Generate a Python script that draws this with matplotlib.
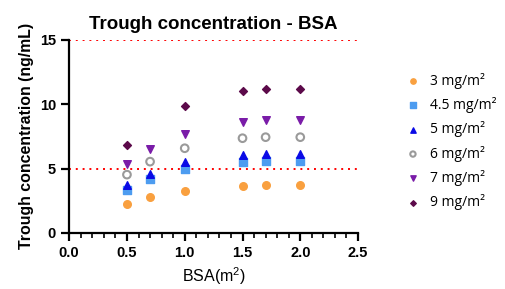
import matplotlib
matplotlib.use("Agg")
import matplotlib.pyplot as plt
from matplotlib.ticker import MultipleLocator

bsa = [0.5, 0.7, 1.0, 1.5, 1.7, 2.0]
dose_labels = ["3 mg/m²", "4.5 mg/m²", "5 mg/m²", "6 mg/m²", "7 mg/m²", "9 mg/m²"]
c_3 = [2.25, 2.77, 3.29, 3.68, 3.73, 3.73]
c_45 = [3.37, 4.17, 4.95, 5.52, 5.60, 5.60]
c_5 = [3.73, 4.60, 5.49, 6.06, 6.17, 6.17]
c_6 = [4.53, 5.54, 6.58, 7.36, 7.44, 7.44]
c_7 = [5.34, 6.53, 7.72, 8.63, 8.76, 8.76]
bsa_9 = [0.5, 1.0, 1.5, 1.7, 2.0]
c_9 = [6.81, 9.87, 11.04, 11.19, 11.19]
limits = [5, 15]

plt.rcParams['font.family'] = ['Liberation Sans', 'DejaVu Sans']
plt.rcParams['mathtext.fontset'] = 'custom'
plt.rcParams['mathtext.rm'] = 'Liberation Sans'

fig = plt.figure(figsize=(5.05, 2.89), dpi=100)
ax = fig.add_axes([0.137, 0.194, 0.572, 0.668])

for lim in limits:
    ax.axhline(lim, color='red', linestyle=(0, (1, 2.5)), linewidth=1.4, zorder=1)

ms = 30
ax.scatter(bsa, c_3, marker='o', s=ms, color='#f9a03f', label=dose_labels[0], zorder=3)
ax.scatter(bsa, c_45, marker='s', s=ms, color='#4d9cf0', label=dose_labels[1], zorder=3)
ax.scatter(bsa, c_5, marker='^', s=ms, color='#0a0ae6', label=dose_labels[2], zorder=3)
ax.scatter(bsa, c_6, marker='o', s=ms, facecolors='none', edgecolors='#9a9a9a', linewidths=1.5,
           label=dose_labels[3], zorder=3)
ax.scatter(bsa, c_7, marker='v', s=ms, color='#7a1ca8', label=dose_labels[4], zorder=3)
ax.scatter(bsa_9, c_9, marker='D', s=16, color='#5c0a4a', label=dose_labels[5], zorder=3)

ax.set_xlim(0, 2.5)
ax.set_ylim(0, 15)
ax.xaxis.set_major_locator(MultipleLocator(0.5))
ax.xaxis.set_minor_locator(MultipleLocator(0.1))
ax.yaxis.set_major_locator(MultipleLocator(5))
ax.xaxis.set_major_formatter(plt.FormatStrFormatter('%.1f'))

for side in ['top', 'right']:
    ax.spines[side].set_visible(False)
for side in ['left', 'bottom']:
    ax.spines[side].set_linewidth(1.6)
ax.tick_params(which='major', width=1.6, length=6, labelsize=10.5)
ax.tick_params(which='minor', width=1.2, length=3.5)
for lbl in ax.get_xticklabels() + ax.get_yticklabels():
    lbl.set_fontweight('bold')

ax.set_title("Trough concentration - BSA", fontsize=13.5, fontweight='bold', pad=8)
ax.set_ylabel("Trough concentration (ng/mL)", fontsize=11.4, fontweight='bold')
ax.set_xlabel("BSA(m$^2$)", fontsize=11.5)

leg = ax.legend(loc='upper left', bbox_to_anchor=(1.166, 0.83), frameon=False,
                prop={'family': 'Open Sans', 'size': 10}, labelspacing=0.6,
                handlelength=1.0, handletextpad=0.7, borderpad=0, borderaxespad=0,
                markerscale=0.7)

fig.savefig("out.png", dpi=100)
